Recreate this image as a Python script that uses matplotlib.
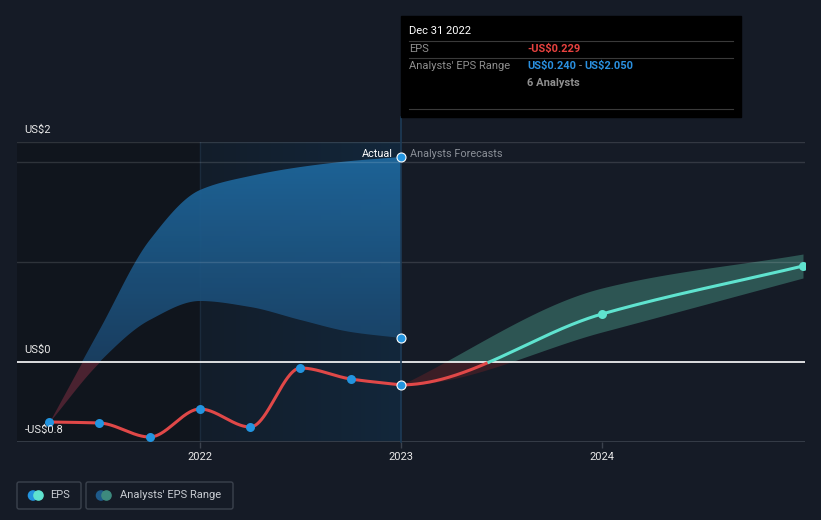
import numpy as np
import matplotlib
matplotlib.use("Agg")
import matplotlib.pyplot as plt
from matplotlib.patches import Rectangle, FancyBboxPatch, Circle
from matplotlib.colors import LinearSegmentedColormap

plt.rcParams['font.family'] = ['Roboto', 'DejaVu Sans']

# ---------------- data ----------------
hist_x = [2021.25, 2021.5, 2021.75, 2022.0, 2022.25, 2022.5, 2022.75, 2023.0]
hist_eps = [-0.60, -0.61, -0.75, -0.47, -0.65, -0.06, -0.17, -0.229]
hist_hi = [-0.60, 0.32, 1.22, 1.72, 1.86, 1.95, 2.01, 2.05]
hist_lo = [-0.60, 0.00, 0.42, 0.61, 0.55, 0.42, 0.30, 0.24]

fc_x = [2023.0, 2024.0, 2025.0]
fc_eps = [-0.229, 0.48, 0.96]
fc_hi = [-0.229, 0.74, 1.08]
fc_lo = [-0.229, 0.30, 0.84]

x_ticks = [2022, 2023, 2024]
x_tick_labels = ["2022", "2023", "2024"]
y_labels = ["US$2", "US$0", "-US$0.8"]

W, H = 821, 520
BG = '#151b26'


def pchip(x, y, xs, m_start=None):
    x = np.asarray(x, float); y = np.asarray(y, float)
    h = np.diff(x); d = np.diff(y) / h
    n = len(x)
    m = np.zeros(n)
    m[0] = d[0] if m_start is None else m_start
    m[-1] = d[-1]
    for k in range(1, n - 1):
        if d[k - 1] * d[k] <= 0:
            m[k] = 0.0
        else:
            w1 = 2 * h[k] + h[k - 1]; w2 = h[k] + 2 * h[k - 1]
            m[k] = (w1 + w2) / (w1 / d[k - 1] + w2 / d[k])
    idx = np.clip(np.searchsorted(x, xs) - 1, 0, n - 2)
    t = (xs - x[idx]) / h[idx]
    h00 = 2 * t**3 - 3 * t**2 + 1
    h10 = t**3 - 2 * t**2 + t
    h01 = -2 * t**3 + 3 * t**2
    h11 = t**3 - t**2
    return h00 * y[idx] + h10 * h[idx] * m[idx] + h01 * y[idx + 1] + h11 * h[idx] * m[idx + 1]


fig = plt.figure(figsize=(W / 100, H / 100), dpi=100, facecolor=BG)

L, R, T, B = 17, 805, 142, 442
ax = fig.add_axes([L / W, 1 - B / H, (R - L) / W, (B - T) / H])
ax.set_facecolor('none')
x0 = 2022 - (200 - L) / 201.0
x1 = 2022 + (R - 200) / 201.0
ax.set_xlim(x0, x1)
ax.set_ylim(-0.8, 2.2)
for s in ax.spines.values():
    s.set_visible(False)

# background regions
ax.axvspan(x0, 2022.0, color='#10151d', zorder=0, lw=0)
grad_h = np.linspace(0, 1, 256).reshape(1, -1)
cm_bg = LinearSegmentedColormap.from_list('bg', ['#121d2a', '#13273b'])
ax.imshow(grad_h, extent=[2022.0, 2023.0, -0.8, 2.2], aspect='auto', cmap=cm_bg, zorder=0.1, interpolation='bicubic')
ax.axvline(2022.0, color='#1b2b3c', lw=1, zorder=0.5)

# past analyst band
xs_h = np.linspace(hist_x[0], hist_x[-1], 600)
hi_h = pchip(hist_x, hist_hi, xs_h)
lo_h = pchip(hist_x, hist_lo, xs_h)
poly = ax.fill_between(xs_h, np.maximum(lo_h, 0), np.maximum(hi_h, 0), color='none', lw=0, zorder=1)
grad_v = np.linspace(0, 1, 256).reshape(-1, 1)
cm_band = LinearSegmentedColormap.from_list('band', ['#1a4266', '#1f6aa1'])
im = ax.imshow(grad_v, extent=[hist_x[0], hist_x[-1], 0, 2.1], origin='lower', aspect='auto',
               cmap=cm_band, zorder=1, alpha=0.92, interpolation='bicubic')
im.set_clip_path(poly.get_paths()[0], transform=ax.transData)
ax.fill_between(xs_h, np.minimum(lo_h, 0), np.minimum(hi_h, 0), color='#4a2230', lw=0, zorder=1)

# forecast band
xs_f = np.linspace(fc_x[0], fc_x[-1], 600)
hi_f = pchip(fc_x, fc_hi, xs_f)
lo_f = pchip(fc_x, fc_lo, xs_f, m_start=0.0)
ax.fill_between(xs_f, np.maximum(lo_f, 0), np.maximum(hi_f, 0), color='#2d5553', lw=0, zorder=1)
ax.fill_between(xs_f, np.minimum(lo_f, 0), np.minimum(hi_f, 0), color='#3a1e26', lw=0, zorder=1)

# gridlines
for yv in [2.2, 2.0, 1.0]:
    ax.axhline(yv, color='#ffffff', alpha=0.13, lw=1, zorder=2)
ax.axhline(-0.8, color='#3b424d', lw=1.2, zorder=2)
ax.axhline(0.0, color='#ffffff', lw=1.2, zorder=2)

# vertical "now" line
ax.plot([2023.0, 2023.0], [-0.8, 2.45], color='#1d3b57', lw=1.2, zorder=2.5, clip_on=False)

# EPS history line
ys_h = pchip(hist_x, hist_eps, xs_h)
ax.plot(xs_h, ys_h, color='#e04848', lw=2.2, zorder=4, solid_capstyle='round')

# forecast line
ys_f = pchip(fc_x, fc_eps, xs_f, m_start=0.0)
ax.plot(xs_f, np.where(ys_f <= 0.004, ys_f, np.nan), color='#e04848', lw=2.2, zorder=4)
ax.plot(xs_f, np.where(ys_f >= -0.004, ys_f, np.nan), color='#5fe3cf', lw=2.2, zorder=4)

# markers
ax.scatter(hist_x[:-1], hist_eps[:-1], s=42, color='#2394df', zorder=5, lw=0)
ax.scatter([hist_x[-1]] * 3, [hist_eps[-1], hist_lo[-1], hist_hi[-1]], s=42, color='#2394df',
           edgecolor='white', lw=0.8, zorder=6, clip_on=False)
ax.scatter(fc_x[1:], fc_eps[1:], s=42, color='#5fe3cf', zorder=5, lw=0, clip_on=True)

# ticks
ax.set_yticks([])
ax.set_xticks(x_ticks)
ax.set_xticklabels(x_tick_labels)
ax.tick_params(axis='x', colors='#3b424d', length=4, width=1, pad=3, labelcolor='#e8e8e8', labelsize=8)

# overlay for annotations
ov = fig.add_axes([0, 0, 1, 1], facecolor='none', zorder=10)
ov.set_xlim(0, W); ov.set_ylim(H, 0); ov.axis('off')

ylab_pos = [130, 350, 430]
for lab, yp in zip(y_labels, ylab_pos):
    ov.text(24.5, yp, lab, color='#e8e8e8', fontsize=8, va='center', ha='left')

ov.text(393, 154, "Actual", color='#ffffff', fontsize=7.8, va='center', ha='right')
ov.text(410, 154, "Analysts Forecasts", color='#8b9098', fontsize=7.8, va='center', ha='left')

# tooltip
FS = 8
ov.add_patch(Rectangle((401, 16), 340, 101, color='#000000', zorder=1))
for yl in [41, 58, 109]:
    ov.plot([409, 733], [yl, yl], color='#3a3a3a', lw=0.8, zorder=2)
ov.text(409, 31, "Dec 31 2022", color='#ffffff', fontsize=FS, va='center', zorder=3)
ov.text(409, 48.5, "EPS", color='#8f8f8f', fontsize=FS, va='center', zorder=3)
ov.text(527, 48.5, "-US$0.229", color='#e8423f', fontsize=FS, va='center', zorder=3, fontweight='bold')
ov.text(409, 66, "Analysts' EPS Range", color='#8f8f8f', fontsize=FS, va='center', zorder=3)
ov.text(527, 66, "US$0.240", color='#2a90e0', fontsize=FS, va='center', zorder=3, fontweight='bold')
ov.text(580, 66, "-", color='#8f8f8f', fontsize=FS, va='center', ha='center', zorder=3)
ov.text(584.5, 66, "US$2.050", color='#2a90e0', fontsize=FS, va='center', zorder=3, fontweight='bold')
ov.text(527, 83, "6 Analysts", color='#8f8f8f', fontsize=FS, va='center', zorder=3, fontweight='bold')

# legend
ov.add_patch(FancyBboxPatch((17, 482), 64, 27, boxstyle='round,pad=0,rounding_size=2',
                            fc='none', ec='#3b424d', lw=1))
ov.add_patch(FancyBboxPatch((86, 482), 147, 27, boxstyle='round,pad=0,rounding_size=2',
                            fc='none', ec='#3b424d', lw=1))
ov.add_patch(Circle((33, 495.5), 4.6, color='#2394df', zorder=3))
ov.add_patch(Circle((38.5, 495.5), 4.6, color='#5fe3cf', zorder=4))
ov.text(50, 495.5, "EPS", color='#c8ccd2', fontsize=8, va='center')
ov.add_patch(Circle((101, 495.5), 4.6, color='#1e5a8a', zorder=3))
ov.add_patch(Circle((106.5, 495.5), 4.6, color='#3d8a7e', zorder=4))
ov.text(120, 495.5, "Analysts' EPS Range", color='#c8ccd2', fontsize=8, va='center')

fig.savefig('out.png', dpi=100, facecolor=BG)
